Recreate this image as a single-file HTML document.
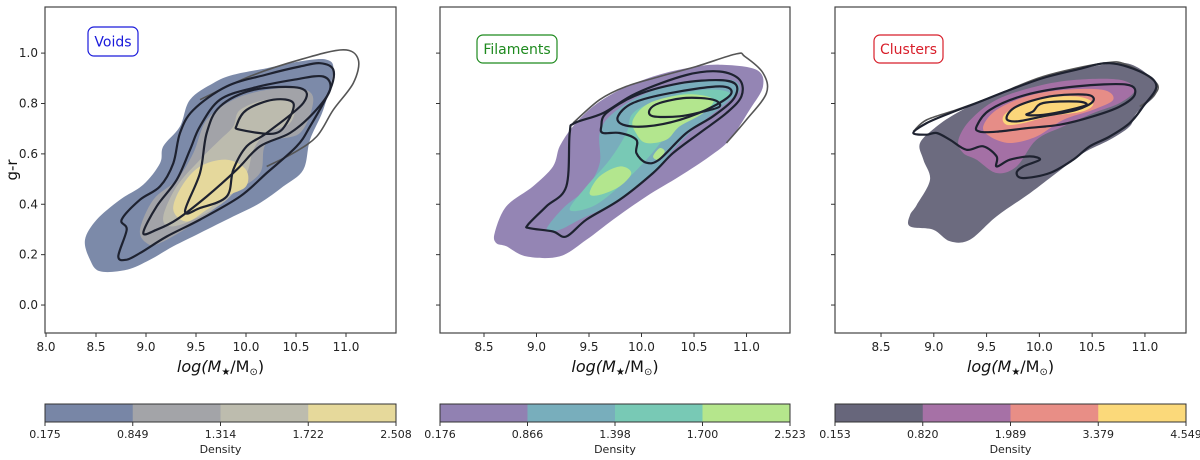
<!DOCTYPE html>
<html><head><meta charset="utf-8"><style>
body{margin:0;background:#fff;}
svg{display:block;font-family:"DejaVu Sans","Liberation Sans",sans-serif;}
</style></head><body>
<svg id="fig" width="1200" height="460" viewBox="0 0 1200 460"></svg>
<script>
// ---------- data ----------
const yTicks=[0.0,0.2,0.4,0.6,0.8,1.0];
const xTicks1=[8.0,8.5,9.0,9.5,10.0,10.5,11.0];
const xTicks23=[8.5,9.0,9.5,10.0,10.5,11.0];
const panelNames=["Voids","Filaments","Clusters"];
const labelColors=["#1a1adb","#1e8a1e","#d81e2a"];
const cbTicks1=["0.175","0.849","1.314","1.722","2.508"];
const cbTicks2=["0.176","0.866","1.398","1.700","2.523"];
const cbTicks3=["0.153","0.820","1.989","3.379","4.549"];
const cbColors1=["#7886a6","#a3a4a8","#bdbcae","#e6d99b"];
const cbColors2=["#9181b2","#78aebc","#78c9b5","#b5e68c"];
const cbColors3=["#67667b","#a671a6","#e88e86","#fbd97a"];
const voidsFill=[
[[8.39,0.259],[8.507,0.339],[8.74,0.418],[8.973,0.478],[9.14,0.563],[9.173,0.63],[9.34,0.709],[9.44,0.815],[9.673,0.881],[9.873,0.914],[10.207,0.94],[10.54,0.967],[10.807,0.974],[10.873,0.927],[10.773,0.775],[10.64,0.656],[10.573,0.537],[10.373,0.471],[10.14,0.405],[9.873,0.352],[9.54,0.286],[9.273,0.233],[9.04,0.18],[8.807,0.14],[8.54,0.134],[8.44,0.18]],
[[8.94,0.299],[9.073,0.418],[9.307,0.497],[9.473,0.603],[9.607,0.735],[9.873,0.815],[10.207,0.854],[10.54,0.861],[10.673,0.815],[10.54,0.683],[10.207,0.643],[10.14,0.524],[9.873,0.444],[9.54,0.339],[9.14,0.246],[9.007,0.246]],
[[9.173,0.352],[9.307,0.471],[9.54,0.577],[9.74,0.656],[9.873,0.709],[9.94,0.774],[10.207,0.815],[10.473,0.802],[10.44,0.722],[10.207,0.683],[10.073,0.616],[10.007,0.524],[9.807,0.418],[9.473,0.339],[9.24,0.312]],
[[9.273,0.378],[9.357,0.471],[9.54,0.55],[9.807,0.577],[10.0,0.537],[10.0,0.471],[9.807,0.432],[9.607,0.378],[9.407,0.331]]
];
const voidsFillLevel=[0,1,2,3];
const voidsLines=[
[[8.723,0.193],[8.807,0.299],[8.757,0.339],[8.94,0.418],[9.14,0.471],[9.273,0.563],[9.34,0.683],[9.473,0.774],[9.807,0.868],[10.207,0.915],[10.54,0.947],[10.74,0.96],[10.873,0.934],[10.84,0.854],[10.64,0.709],[10.507,0.63],[10.207,0.524],[9.94,0.431],[9.54,0.339],[9.207,0.272],[8.94,0.206],[8.807,0.18]],
[[8.973,0.286],[9.107,0.392],[9.307,0.497],[9.44,0.616],[9.54,0.709],[9.74,0.815],[10.073,0.862],[10.473,0.894],[10.773,0.907],[10.84,0.854],[10.673,0.762],[10.44,0.683],[10.14,0.63],[9.907,0.537],[9.607,0.431],[9.307,0.339],[9.107,0.299]],
[[9.39,0.372],[9.54,0.524],[9.607,0.683],[9.74,0.788],[10.073,0.854],[10.54,0.861],[10.573,0.802],[10.207,0.683],[10.007,0.63],[9.873,0.537],[9.807,0.431],[9.54,0.385]],
[[9.907,0.714],[10.007,0.775],[10.273,0.815],[10.473,0.802],[10.407,0.722],[10.273,0.68],[9.94,0.696]]
];
const voidsOuter=[[9.54,0.815],[10.04,0.908],[10.54,0.974],[10.973,1.013],[11.123,0.974],[11.073,0.881],[10.873,0.775],[10.707,0.669],[10.473,0.603],[10.207,0.55]];

const filFill=[
[[8.602,0.286],[8.713,0.392],[8.967,0.471],[9.157,0.55],[9.221,0.63],[9.348,0.709],[9.538,0.788],[9.792,0.854],[10.11,0.907],[10.427,0.94],[10.744,0.954],[11.094,0.934],[11.157,0.868],[11.03,0.775],[10.84,0.656],[10.649,0.59],[10.363,0.511],[10.046,0.431],[9.729,0.339],[9.475,0.259],[9.221,0.193],[8.903,0.193],[8.713,0.233],[8.617,0.246]],
[[9.094,0.299],[9.252,0.384],[9.475,0.463],[9.602,0.563],[9.602,0.683],[9.729,0.762],[10.046,0.841],[10.427,0.881],[10.84,0.894],[10.935,0.854],[10.808,0.802],[10.49,0.696],[10.3,0.616],[10.11,0.524],[9.792,0.418],[9.411,0.339],[9.221,0.299]],
[[9.316,0.378],[9.475,0.471],[9.697,0.577],[9.856,0.683],[9.919,0.762],[10.173,0.815],[10.586,0.854],[10.84,0.841],[10.681,0.788],[10.427,0.735],[10.237,0.669],[10.046,0.577],[9.792,0.471],[9.538,0.392]],
[[9.506,0.444],[9.602,0.511],[9.792,0.55],[9.903,0.524],[9.792,0.471],[9.602,0.437]],
[[9.919,0.735],[10.078,0.802],[10.427,0.836],[10.681,0.817],[10.586,0.762],[10.363,0.709],[10.237,0.656],[10.046,0.643],[9.951,0.68]],
[[10.11,0.59],[10.173,0.623],[10.221,0.609],[10.157,0.577]]
];
const filFillLevel=[0,1,2,3,3,3];
const filLines=[
[[8.919,0.319],[9.094,0.392],[9.284,0.471],[9.316,0.683],[9.363,0.722],[9.633,0.762],[9.951,0.841],[10.427,0.913],[10.744,0.927],[10.935,0.894],[10.951,0.828],[10.808,0.762],[10.554,0.683],[10.3,0.603],[10.11,0.524],[9.792,0.418],[9.475,0.339],[9.284,0.272],[9.157,0.292],[8.935,0.305]],
[[9.617,0.709],[9.665,0.762],[9.951,0.833],[10.363,0.88],[10.744,0.893],[10.903,0.873],[10.871,0.815],[10.681,0.749],[10.427,0.683],[10.173,0.579],[10.046,0.565],[9.951,0.603],[9.951,0.656],[9.792,0.683],[9.633,0.683]],
[[9.776,0.749],[9.919,0.802],[10.268,0.841],[10.744,0.868],[10.856,0.841],[10.681,0.788],[10.363,0.735],[10.046,0.709],[9.824,0.716]],
[[10.078,0.775],[10.173,0.802],[10.427,0.822],[10.681,0.815],[10.744,0.788],[10.586,0.768],[10.363,0.749],[10.11,0.749]]
];
const filOuter=[[9.348,0.722],[9.602,0.815],[9.856,0.868],[10.173,0.907],[10.522,0.947],[10.903,0.997],[10.983,0.987],[11.157,0.921],[11.189,0.841],[10.998,0.735],[10.808,0.643]];

const cluFill=[
[[8.774,0.357],[8.838,0.397],[8.964,0.497],[8.901,0.577],[8.869,0.643],[9.027,0.709],[9.216,0.762],[9.468,0.815],[9.784,0.868],[10.099,0.907],[10.509,0.947],[10.825,0.96],[11.046,0.907],[11.109,0.841],[10.92,0.762],[10.856,0.709],[10.667,0.656],[10.415,0.603],[10.162,0.524],[9.91,0.444],[9.595,0.352],[9.342,0.259],[9.153,0.253],[8.995,0.299],[8.774,0.312]],
[[9.232,0.653],[9.342,0.733],[9.595,0.815],[9.973,0.868],[10.352,0.894],[10.762,0.894],[10.904,0.854],[10.762,0.802],[10.509,0.762],[10.226,0.709],[9.973,0.656],[9.784,0.55],[9.595,0.524],[9.405,0.577],[9.279,0.603]],
[[9.468,0.709],[9.595,0.775],[9.879,0.828],[10.226,0.854],[10.604,0.854],[10.699,0.815],[10.509,0.775],[10.226,0.735],[9.973,0.669],[9.721,0.643],[9.532,0.669]],
[[9.658,0.749],[9.784,0.788],[10.036,0.821],[10.352,0.828],[10.509,0.802],[10.415,0.769],[10.099,0.749],[9.847,0.722],[9.689,0.716]]
];
const cluFillLevel=[0,1,2,3];
const cluLines=[
[[8.806,0.683],[8.932,0.676],[9.027,0.683],[9.153,0.656],[9.311,0.616],[9.468,0.63],[9.595,0.59],[9.595,0.55],[9.721,0.577],[9.91,0.59],[10.005,0.577],[9.847,0.55],[9.784,0.524],[9.847,0.504],[10.099,0.524],[10.32,0.577],[10.478,0.63],[10.667,0.669],[10.856,0.722],[10.983,0.788],[11.109,0.868],[10.983,0.921],[10.667,0.96],[10.352,0.934],[10.036,0.901],[9.721,0.854],[9.405,0.802],[9.153,0.762],[8.932,0.722]],
[[9.405,0.709],[9.532,0.775],[9.879,0.835],[10.352,0.868],[10.825,0.875],[10.904,0.836],[10.762,0.788],[10.509,0.749],[10.194,0.716],[9.879,0.702],[9.595,0.688],[9.437,0.688]],
[[9.689,0.742],[9.784,0.788],[10.099,0.828],[10.446,0.835],[10.509,0.809],[10.352,0.775],[10.036,0.749],[9.784,0.729]],
[[9.942,0.769],[10.036,0.802],[10.352,0.808],[10.446,0.795],[10.288,0.775],[10.036,0.755],[9.879,0.755]]
];
const cluOuter=[[8.806,0.689],[8.932,0.735],[9.216,0.775],[9.563,0.828],[10.036,0.907],[10.604,0.96],[10.825,0.954],[11.109,0.881],[11.077,0.828],[10.951,0.788]];

// ---------- layout ----------
const NS="http://www.w3.org/2000/svg";
const svg=document.getElementById('fig');
function mk(tag,attrs,parent){const e=document.createElementNS(NS,tag);for(const k in attrs)e.setAttribute(k,attrs[k]);(parent||svg).appendChild(e);return e;}
const panels=[
 {left:45,right:396,xmin:7.99,xmax:11.5,ticks:xTicks1,fill:voidsFill,lvl:voidsFillLevel,lines:voidsLines,outer:voidsOuter,cols:cbColors1,cb:cbTicks1,box:[88,27,50,29]},
 {left:440,right:790,xmin:8.081,xmax:11.414,ticks:xTicks23,fill:filFill,lvl:filFillLevel,lines:filLines,outer:filOuter,cols:cbColors2,cb:cbTicks2,box:[477,35,80,28]},
 {left:835,right:1186,xmin:8.064,xmax:11.389,ticks:xTicks23,fill:cluFill,lvl:cluFillLevel,lines:cluLines,outer:cluOuter,cols:cbColors3,cb:cbTicks3,box:[874,35,69,28]}
];
const axTop=7,axBottom=333,ymin=-0.111,ymax=1.183;
const ys=v=>axBottom-(v-ymin)/(ymax-ymin)*(axBottom-axTop);
function smoothPath(pts,xs,closed){
 const P=pts.map(p=>[xs(p[0]),ys(p[1])]);const n=P.length;let d=`M${P[0][0].toFixed(1)},${P[0][1].toFixed(1)}`;
 const g=i=>closed?P[(i+n)%n]:P[Math.max(0,Math.min(n-1,i))];
 const m=closed?n:n-1;
 for(let i=0;i<m;i++){const p0=g(i-1),p1=g(i),p2=g(i+1),p3=g(i+2);
  const c1=[p1[0]+(p2[0]-p0[0])/6,p1[1]+(p2[1]-p0[1])/6],c2=[p2[0]-(p3[0]-p1[0])/6,p2[1]-(p3[1]-p1[1])/6];
  d+=`C${c1[0].toFixed(1)},${c1[1].toFixed(1)} ${c2[0].toFixed(1)},${c2[1].toFixed(1)} ${p2[0].toFixed(1)},${p2[1].toFixed(1)}`;}
 return d+(closed?'Z':'');
}
panels.forEach((p,pi)=>{
 const xs=v=>p.left+(v-p.xmin)/(p.xmax-p.xmin)*(p.right-p.left);
 const g=mk('g',{});
 
 
 p.fill.forEach((poly,i)=>{
  const e=mk('path',{d:smoothPath(poly,xs,true),fill:p.cols[p.lvl[i]],'fill-opacity':'0.97'},g);
  
  
 });
 const o=mk('path',{d:smoothPath(p.outer,xs,false),fill:'none',stroke:'#555','stroke-width':1.6},g);
 
 
 p.lines.forEach((poly,i)=>{
  const e=mk('path',{d:smoothPath(poly,xs,true),fill:'none',stroke:'#1e2230','stroke-width':2.2},g);
  
  
 });
 const fr=mk('rect',{x:p.left,y:axTop,width:p.right-p.left,height:axBottom-axTop,fill:'none',stroke:'#444','stroke-width':1.2},g);
 
 
 p.ticks.forEach(t=>{const x=xs(t);
  mk('line',{x1:x,x2:x,y1:axBottom,y2:axBottom+4,stroke:'#333'},g);
  const tl=mk('text',{x:x,y:axBottom+18,'font-size':12,'text-anchor':'middle',fill:'#222'},g);tl.textContent=t.toFixed(1);
  
  
 });
 yTicks.forEach(t=>{const y=ys(t);
  mk('line',{x1:p.left-4,x2:p.left,y1:y,y2:y,stroke:'#333'},g);
  if(pi===0){const tl=mk('text',{x:p.left-7,y:y+4,'font-size':12,'text-anchor':'end',fill:'#222'},g);tl.textContent=t.toFixed(1);
   
   }
 });
 const xl=mk('text',{x:(p.left+p.right)/2,y:372,'font-size':16,'text-anchor':'middle',fill:'#111'},g);
 xl.innerHTML='<tspan font-style="italic">log(M</tspan><tspan font-size="10" dy="3">★</tspan><tspan dy="-3">/M</tspan><tspan font-size="10" dy="3">⊙</tspan><tspan dy="-3">)</tspan>';
 
 
 const b=p.box;
 const br=mk('rect',{x:b[0],y:b[1],width:b[2],height:b[3],rx:6,fill:'#fff',stroke:labelColors[pi],'stroke-width':1.2},g);
 
 
 const bt=mk('text',{x:b[0]+b[2]/2,y:b[1]+b[3]/2+5,'font-size':14,'text-anchor':'middle',fill:labelColors[pi]},g);bt.textContent=panelNames[pi];
 
 
 const cg=mk('g',{});
 
 
 const cw=(p.right-p.left)/p.cols.length;
 p.cols.forEach((c,i)=>{mk('rect',{x:p.left+i*cw,y:404,width:cw+0.5,height:18,fill:c},cg);});
 mk('rect',{x:p.left,y:404,width:p.right-p.left,height:18,fill:'none',stroke:'#333','stroke-width':1},cg);
 p.cb.forEach((t,i)=>{const x=p.left+i*cw;
  mk('line',{x1:x,x2:x,y1:422,y2:426,stroke:'#333'},cg);
  const tl=mk('text',{x:x,y:438,'font-size':11,'text-anchor':'middle',fill:'#222'},cg);tl.textContent=t;
  
  
 });
 const dl=mk('text',{x:(p.left+p.right)/2,y:453,'font-size':11,'text-anchor':'middle',fill:'#222'},cg);dl.textContent='Density';
 
 
});
const yl=mk('text',{x:0,y:0,'font-size':15,'text-anchor':'middle',fill:'#111',transform:'translate(17,170) rotate(-90)'});yl.textContent='g-r';


</script>
</body></html>
